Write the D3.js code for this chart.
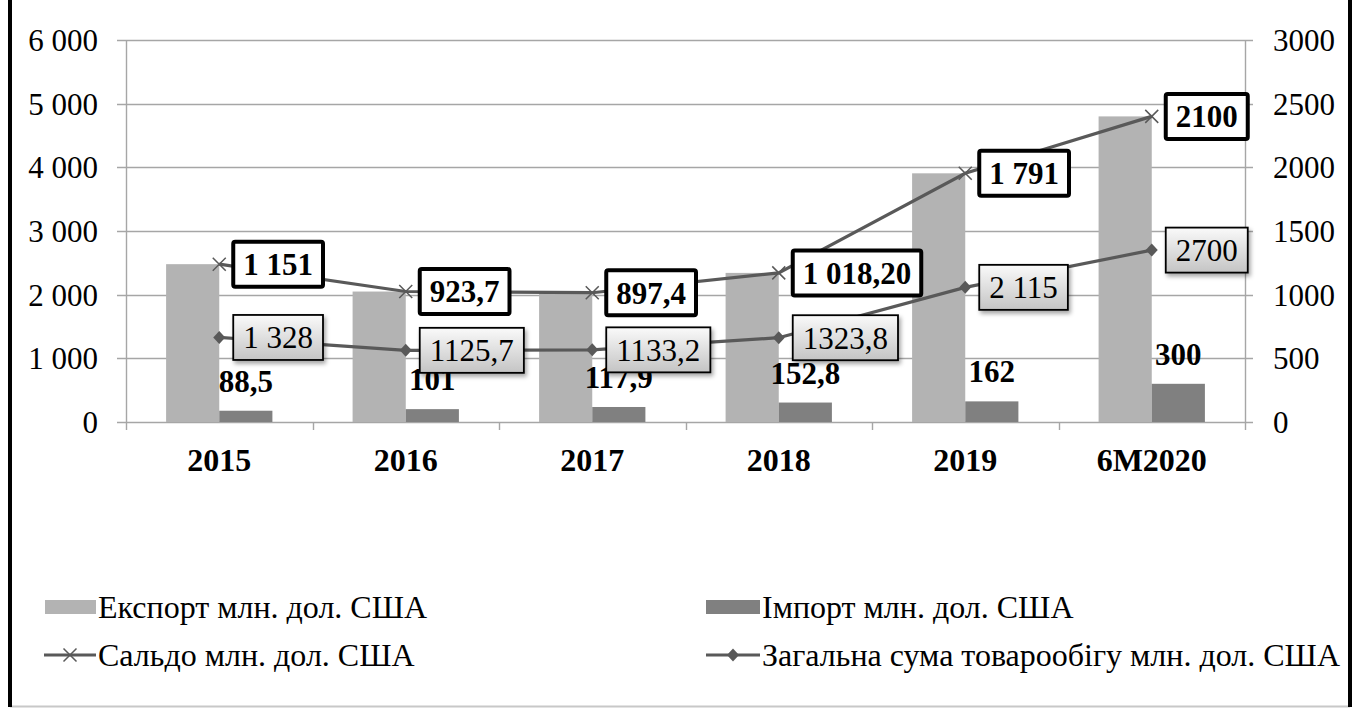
<!DOCTYPE html>
<html><head><meta charset="utf-8">
<script src="https://cdn.jsdelivr.net/npm/d3@7"></script>
<style>
html,body{margin:0;padding:0;background:#fff;}
svg text{font-family:"Liberation Serif","Times New Roman",serif;}
</style></head>
<body>
<svg id="c" width="1360" height="709"></svg>
<script>
const categories = ["2015","2016","2017","2018","2019","6M2020"];
const exportVals = [2479, 2049, 2031, 2342, 3906, 4800];
const importVals = [88.5, 101, 117.9, 152.8, 162, 300];
const saldoVals = [1151, 923.7, 897.4, 1018.2, 1791, 2100];
const totalVals = [1328, 1125.7, 1133.2, 1323.8, 2115, 2700];
const saldoLabels = ["1 151","923,7","897,4","1 018,20","1 791","2100"];
const totalLabels = ["1 328","1125,7","1133,2","1323,8","2 115","2700"];
const importLabels = ["88,5","101","117,9","152,8","162","300"];
const leftTicks = [0,1000,2000,3000,4000,5000,6000];
const leftTickLabels = ["0","1 000","2 000","3 000","4 000","5 000","6 000"];
const rightTicks = [0,500,1000,1500,2000,2500,3000];
const legendNames = ["Експорт млн. дол. США","Імпорт млн. дол. США","Сальдо млн. дол. США","Загальна сума товарообігу млн. дол. США"];

const svg = d3.select("#c");
const L = 126, R = 1245, T = 40, B = 422;
const x = d3.scaleBand().domain(categories).range([L, R]).paddingInner(0).paddingOuter(0);
const yL = d3.scaleLinear().domain([0,6000]).range([B, T]);
const yR = d3.scaleLinear().domain([0,3000]).range([B, T]);
const bw = x.bandwidth()*0.285;
const cx = c => x(c) + x.bandwidth()/2;

// frame
svg.append("rect").attr("x",0).attr("y",0).attr("width",1360).attr("height",709).attr("fill","#fff");
svg.append("line").attr("x1",10).attr("x2",1350).attr("y1",706.5).attr("y2",706.5).attr("stroke","#c8c8c8").attr("stroke-width",2);
svg.append("line").attr("x1",10).attr("x2",10).attr("y1",0).attr("y2",707).attr("stroke","#000").attr("stroke-width",4);
svg.append("line").attr("x1",1350).attr("x2",1350).attr("y1",0).attr("y2",707).attr("stroke","#000").attr("stroke-width",4);

// grid
const g = svg.append("g");
g.selectAll(".grid").data(leftTicks).join("line")
  .attr("x1", L-9).attr("x2", R+8)
  .attr("y1", d=>Math.round(yL(d))+0.5).attr("y2", d=>Math.round(yL(d))+0.5)
  .attr("stroke","#a6a6a6").attr("stroke-width",1.4);
g.append("line").attr("x1",L+0.5).attr("x2",L+0.5).attr("y1",T).attr("y2",B+8).attr("stroke","#a6a6a6").attr("stroke-width",1.4);
g.append("line").attr("x1",R+0.5).attr("x2",R+0.5).attr("y1",T).attr("y2",B+8).attr("stroke","#a6a6a6").attr("stroke-width",1.4);
g.selectAll(".xt").data(categories.slice(1)).join("line")
  .attr("x1", d=>Math.round(x(d))+0.5).attr("x2", d=>Math.round(x(d))+0.5)
  .attr("y1", B).attr("y2", B+8).attr("stroke","#a6a6a6").attr("stroke-width",1.4);

// left tick labels
g.selectAll(".lt").data(leftTicks).join("text")
  .attr("x", 98).attr("y", d=>yL(d)).attr("dy","0.35em")
  .attr("text-anchor","end").attr("font-size",31).attr("fill","#000")
  .text((d,i)=>leftTickLabels[i]);
// right tick labels
g.selectAll(".rt").data(rightTicks).join("text")
  .attr("x", 1273).attr("y", d=>yR(d)).attr("dy","0.35em")
  .attr("text-anchor","start").attr("font-size",31).attr("fill","#000")
  .text(d=>d);
// x labels
g.selectAll(".xl").data(categories).join("text")
  .attr("x", d=>cx(d)).attr("y", 471)
  .attr("text-anchor","middle").attr("font-size",32).attr("font-weight","bold")
  .text(d=>d);

// bars
g.selectAll(".exp").data(categories).join("rect")
  .attr("x", d=>cx(d)-bw).attr("width", bw)
  .attr("y", (d,i)=>yL(exportVals[i])).attr("height",(d,i)=>B-yL(exportVals[i]))
  .attr("fill","#b3b3b3");
g.selectAll(".imp").data(categories).join("rect")
  .attr("x", d=>cx(d)).attr("width", bw)
  .attr("y", (d,i)=>yR(importVals[i])).attr("height",(d,i)=>B-yR(importVals[i]))
  .attr("fill","#808080");

// import labels
g.selectAll(".il").data(categories).join("text")
  .attr("x", d=>cx(d)+bw/2).attr("y",(d,i)=>yR(importVals[i])-19)
  .attr("text-anchor","middle").attr("font-size",31).attr("font-weight","bold")
  .text((d,i)=>importLabels[i]);

// lines
const totalPts = categories.map((c,i)=>[cx(c), yL(totalVals[i])]);
const saldoPts = categories.map((c,i)=>[cx(c), yL(totalVals[i]+saldoVals[i])]);
const line = d3.line();
g.append("path").attr("d", line(totalPts)).attr("fill","none").attr("stroke","#595959").attr("stroke-width",3.2);
g.append("path").attr("d", line(saldoPts)).attr("fill","none").attr("stroke","#595959").attr("stroke-width",3.2);
const diamond = (p) => `M${p[0]},${p[1]-6.5}L${p[0]+6},${p[1]}L${p[0]},${p[1]+6.5}L${p[0]-6},${p[1]}Z`;
g.selectAll(".dm").data(totalPts).join("path").attr("d", diamond).attr("fill","#595959");
const xmark = (p) => `M${p[0]-6.5},${p[1]-6.5}L${p[0]+6.5},${p[1]+6.5}M${p[0]-6.5},${p[1]+6.5}L${p[0]+6.5},${p[1]-6.5}`;
g.selectAll(".xm").data(saldoPts).join("path").attr("d", xmark).attr("stroke","#595959").attr("stroke-width",1.5).attr("fill","none");

const defs = svg.append("defs");
const grad = defs.append("linearGradient").attr("id","gg").attr("x1",0).attr("y1",0).attr("x2",0).attr("y2",1);
grad.append("stop").attr("offset","0%").attr("stop-color","#fafafa");
grad.append("stop").attr("offset","100%").attr("stop-color","#c4c4c4");
const flt = defs.append("filter").attr("id","sh").attr("x","-20%").attr("y","-20%").attr("width","150%").attr("height","160%");
flt.append("feDropShadow").attr("dx",2).attr("dy",3).attr("stdDeviation",2).attr("flood-color","#000").attr("flood-opacity",0.35);

totalPts.forEach((p,i)=>{
  const lg = g.append("g");
  const t = lg.append("text").attr("x", p[0]+24).attr("y", p[1]).attr("dy","0.35em")
    .attr("font-size",31).attr("fill","#000").text(totalLabels[i]);
  const w = t.node().getComputedTextLength();
  lg.insert("rect","text").attr("x", p[0]+14).attr("y", p[1]-22.5).attr("width", w+20).attr("height",45)
    .attr("fill","url(#gg)").attr("stroke","#000").attr("stroke-width",1.8).attr("filter","url(#sh)");
});
saldoPts.forEach((p,i)=>{
  const lg = g.append("g");
  const t = lg.append("text").attr("x", p[0]+24).attr("y", p[1]).attr("dy","0.35em")
    .attr("font-size",31).attr("font-weight","bold").attr("fill","#000").text(saldoLabels[i]);
  const w = t.node().getComputedTextLength();
  lg.insert("rect","text").attr("x", p[0]+14).attr("y", p[1]-22.5).attr("width", w+20).attr("height",45)
    .attr("fill","#fff").attr("stroke","#000").attr("stroke-width",4).attr("rx",2);
});

// legend
const lgd = svg.append("g");
const lx = [45, 706], ly = [607, 655];
lgd.append("rect").attr("x",lx[0]).attr("y",ly[0]-7).attr("width",51).attr("height",14).attr("fill","#b3b3b3");
lgd.append("rect").attr("x",lx[1]).attr("y",ly[0]-7).attr("width",54).attr("height",14).attr("fill","#808080");
lgd.append("line").attr("x1",lx[0]-1).attr("x2",lx[0]+51).attr("y1",ly[1]).attr("y2",ly[1]).attr("stroke","#595959").attr("stroke-width",3.2);
lgd.append("path").attr("d", xmark([lx[0]+25, ly[1]])).attr("stroke","#595959").attr("stroke-width",1.5);
lgd.append("line").attr("x1",lx[1]).attr("x2",lx[1]+54).attr("y1",ly[1]).attr("y2",ly[1]).attr("stroke","#595959").attr("stroke-width",3.2);
lgd.append("path").attr("d", diamond([lx[1]+27, ly[1]])).attr("fill","#595959");
const legPos = [[98,ly[0]],[762,ly[0]],[98,ly[1]],[762,ly[1]]];
legendNames.forEach((n,i)=>{
  lgd.append("text").attr("x",legPos[i][0]).attr("y",legPos[i][1]).attr("dy","0.35em")
    .attr("font-size",32).attr("fill","#000").text(n);
});
</script>
</body></html>
